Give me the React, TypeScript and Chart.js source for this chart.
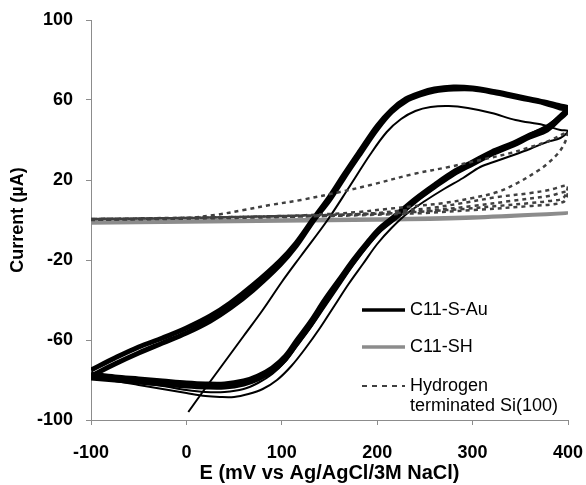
import React, { useEffect, useRef } from 'react';
import { Chart, registerables } from 'chart.js';

Chart.register(...registerables);

// ---- axis ticks ----
const xTicks = [-100, 0, 100, 200, 300, 400];
const yTicks = [-100, -60, -20, 20, 60, 100];

// ---- C11-S-Au, steady-state cycles (thick band) ----
const auCycleA_E = [-100, -75, -50, -25, 0, 25, 46, 70, 98, 115, 133, 150, 165, 182, 200, 215, 230, 245, 260, 280, 300, 325, 350, 375, 392, 400,
  390, 378, 360, 343, 320, 300, 280, 260, 240, 220, 203, 190, 175, 160, 145, 130, 116, 104, 90, 75, 60, 40, 20, 0, -25, -50, -75, -100];
const auCycleA_I = [-75, -69, -63.5, -59, -54, -48, -41.5, -32.5, -20.5, -11.5, 0.5, 11.5, 22.5, 34.5, 47, 55, 60.5, 63.5, 65.5, 66.5, 66, 64, 61.5, 59, 57, 56,
  51, 46, 42.5, 38.5, 34, 29, 24, 17.5, 10.5, 2.5, -4, -11, -20, -30, -40, -51, -60, -68, -74, -78, -80.5, -82, -82, -81.5, -80.5, -79.5, -78.5, -77];

const auCycleB_E = auCycleA_E;
const auCycleB_I = [-78, -72, -66.5, -61.5, -56.5, -50.5, -44, -35, -22.5, -13, -0.5, 10, 21, 33, 45.5, 54, 59.5, 62.5, 64.5, 65.5, 65.5, 63.5, 61, 58.5, 56, 55,
  50, 45, 41.5, 37.5, 33, 28, 23, 16.5, 9.5, 1.5, -5, -12, -21, -31, -41.5, -52.5, -61.5, -69.5, -75.5, -79.5, -82, -83.5, -83.5, -83, -82, -81, -80, -79];

// second cycle reverse sweep (thin)
const auCycle2_E = [400, 380, 360, 340, 320, 300, 280, 260, 240, 220, 203, 190, 175, 160, 145, 130, 116, 104, 90, 75, 60, 40, 20, 0, -25, -50, -75, -100];
const auCycle2_I = [55, 48, 43, 38, 33, 28, 22.5, 16, 9, 1, -6, -13, -22.5, -33, -43.5, -54, -63, -70.5, -77, -81.5, -84.5, -86, -86, -85, -83, -81.5, -79.5, -78];

// first cycle (thin), starting at 0 mV
const auFirst_E = [2, 20, 40, 60, 80, 100, 120, 148, 170, 193, 210, 225, 240, 256, 275, 295, 320, 345, 374, 392, 400,
  392, 378, 360, 343, 325, 308, 290, 270, 250, 232, 215, 200, 185, 170, 155, 140, 125, 110, 95, 80, 65, 50, 35, 20, 0, -25, -50, -75, -100];
const auFirst_I = [-96, -84, -71, -58, -45, -31, -18, 0, 16, 33, 44, 50.5, 54.5, 56.5, 57, 56, 53.5, 50, 47.5, 45, 44.5,
  41, 39, 35.5, 32.5, 29.5, 26.5, 21, 15.5, 9.5, 3.5, -4, -12, -22, -32, -43, -54, -64, -73, -80, -84.5, -87, -88.5, -88.5, -88, -86.5, -84.5, -82.5, -80.5, -79];

// ---- C11-SH ----
const shE = [-100, 0, 100, 200, 300, 400, 300, 200, 100, 0, -100];
const shI = [-1, -0.5, 0, 0.5, 1.5, 3.5, 1, 0, -0.5, -1, -1.5];

// ---- Hydrogen terminated Si(100), dashed cycles ----
const si1E = [-100, -50, 0, 30, 60, 88, 120, 161, 193, 238, 275, 308, 340, 361, 380, 395, 400,
  396, 389, 378, 368, 347, 326, 300, 270, 240, 210, 180, 150, 100, 50, 0, -100];
const si1I = [0.5, 0.5, 1, 2.5, 5, 7.5, 10, 14, 17.5, 23, 26.5, 30, 33.5, 36.5, 39.5, 43, 44,
  38, 33, 28, 24.5, 18.5, 14, 11, 8.5, 7, 5.5, 4, 3, 2, 1.5, 1, 0.5];
const si2E = [-100, 0, 100, 151, 200, 221, 256, 290, 326, 361, 380, 400, 395, 380, 361, 326, 290, 256, 221, 150, 50, -100];
const si2I = [0.5, 1, 2, 2.5, 3.5, 4.5, 6, 8.5, 11.5, 13.5, 15, 17, 11, 9.5, 8.5, 7, 5.5, 4.5, 3.5, 2.5, 1.5, 0.5];
const si3E = [-100, 100, 200, 260, 300, 340, 380, 400, 395, 360, 300, 250, 150, 0, -100];
const si3I = [0, 1.5, 3, 5, 7, 9.5, 12, 14, 9, 7, 5, 3.5, 2, 1, 0];

// ---- legend ----
const legendLabels = [['C11-S-Au'], ['C11-SH'], ['Hydrogen', 'terminated Si(100)']];
const seriesColors = ['#000000', '#8c8c8c', '#404040'];

const xTitle = 'E (mV vs Ag/AgCl/3M NaCl)';
const yTitle = 'Current (\u00B5A)';

const FONT = 'Arial, "Liberation Sans", Helvetica, sans-serif';

function pts(xs: number[], ys: number[]) {
  return xs.map((x, i) => ({ x, y: ys[i] }));
}

const legendPlugin = {
  id: 'cvLegend',
  afterDraw(chart: any) {
    const { ctx, chartArea } = chart;
    const x0 = chartArea.left + 271;
    const x1 = chartArea.left + 314;
    const tx = chartArea.left + 319;
    const rows = [290, 327, 366];
    const styles = [
      { w: 3.5, dash: [] as number[] },
      { w: 3.5, dash: [] as number[] },
      { w: 2, dash: [5, 5] },
    ];
    ctx.save();
    ctx.font = '18px ' + FONT;
    ctx.textBaseline = 'middle';
    ctx.textAlign = 'left';
    legendLabels.forEach((lines, i) => {
      const y = chartArea.top + rows[i];
      ctx.beginPath();
      ctx.strokeStyle = seriesColors[i];
      ctx.lineWidth = styles[i].w;
      ctx.setLineDash(styles[i].dash);
      ctx.moveTo(x0, y);
      ctx.lineTo(x1, y);
      ctx.stroke();
      ctx.setLineDash([]);
      ctx.fillStyle = '#000';
      lines.forEach((t, j) => ctx.fillText(t, tx, y + j * 20));
    });
    ctx.restore();
  },
};

export default function App() {
  const ref = useRef<HTMLCanvasElement | null>(null);

  useEffect(() => {
    if (!ref.current) return;
    const base = { showLine: true, pointRadius: 0, fill: false, tension: 0.35 };
    const chart = new Chart(ref.current, {
      type: 'scatter',
      data: {
        datasets: [
          { ...base, label: 'Hydrogen terminated Si(100)', data: pts(si1E, si1I), borderColor: seriesColors[2], borderWidth: 2.5, borderDash: [4, 4], order: 0 },
          { ...base, label: 'Si cycle 2', data: pts(si2E, si2I), borderColor: seriesColors[2], borderWidth: 2.5, borderDash: [4, 4], order: 0 },
          { ...base, label: 'Si cycle 3', data: pts(si3E, si3I), borderColor: seriesColors[2], borderWidth: 2.5, borderDash: [4, 4], order: 0 },
          { ...base, label: 'C11-SH', data: pts(shE, shI), borderColor: seriesColors[1], borderWidth: 3.5, order: 2 },
          { ...base, label: 'C11-S-Au', data: pts(auCycleA_E, auCycleA_I), borderColor: seriesColors[0], borderWidth: 5, order: 1 },
          { ...base, label: 'C11-S-Au B', data: pts(auCycleB_E, auCycleB_I), borderColor: seriesColors[0], borderWidth: 5, order: 1 },
          { ...base, label: 'C11-S-Au 2', data: pts(auCycle2_E, auCycle2_I), borderColor: seriesColors[0], borderWidth: 2, order: 1 },
          { ...base, label: 'C11-S-Au 1', data: pts(auFirst_E, auFirst_I), borderColor: seriesColors[0], borderWidth: 2, order: 1 },
        ],
      },
      options: {
        animation: false,
        responsive: true,
        maintainAspectRatio: false,
        layout: { padding: { left: 0, top: 20, right: 18, bottom: 0 } },
        plugins: { legend: { display: false }, tooltip: { enabled: false } },
        scales: {
          x: {
            type: 'linear',
            min: -100,
            max: 400,
            afterBuildTicks: (s: any) => { s.ticks = xTicks.map((v) => ({ value: v })); },
            afterFit: (s: any) => { s.height = 65; s.paddingRight = 0; s.paddingLeft = 0; },
            grid: { display: true, drawOnChartArea: false, drawTicks: true, tickLength: 5, color: '#8c8c8c' },
            border: { display: true, color: '#8c8c8c', width: 1 },
            ticks: { color: '#000', font: { family: FONT, size: 18, weight: 'bold' }, padding: 17, maxRotation: 0 },
            title: { display: true, text: xTitle, color: '#000', font: { family: FONT, size: 20, weight: 'bold' }, padding: { top: 0, bottom: 0 } },
          },
          y: {
            type: 'linear',
            min: -100,
            max: 100,
            afterBuildTicks: (s: any) => { s.ticks = yTicks.map((v) => ({ value: v })); },
            afterFit: (s: any) => { s.width = 91; s.paddingTop = 0; s.paddingBottom = 0; },
            grid: { display: true, drawOnChartArea: false, drawTicks: true, tickLength: 5, color: '#8c8c8c' },
            border: { display: true, color: '#8c8c8c', width: 1 },
            ticks: { color: '#000', font: { family: FONT, size: 18, weight: 'bold' }, padding: 13 },
            title: { display: true, text: yTitle, color: '#000', font: { family: FONT, size: 18, weight: 'bold' }, padding: { top: 7, bottom: 0 } },
          },
        },
      },
      plugins: [legendPlugin],
    } as any);
    return () => chart.destroy();
  }, []);

  return (
    <div style={{ position: 'fixed', left: 0, top: 0, width: 586, height: 485, background: '#fff' }}>
      <canvas ref={ref} />
    </div>
  );
}
